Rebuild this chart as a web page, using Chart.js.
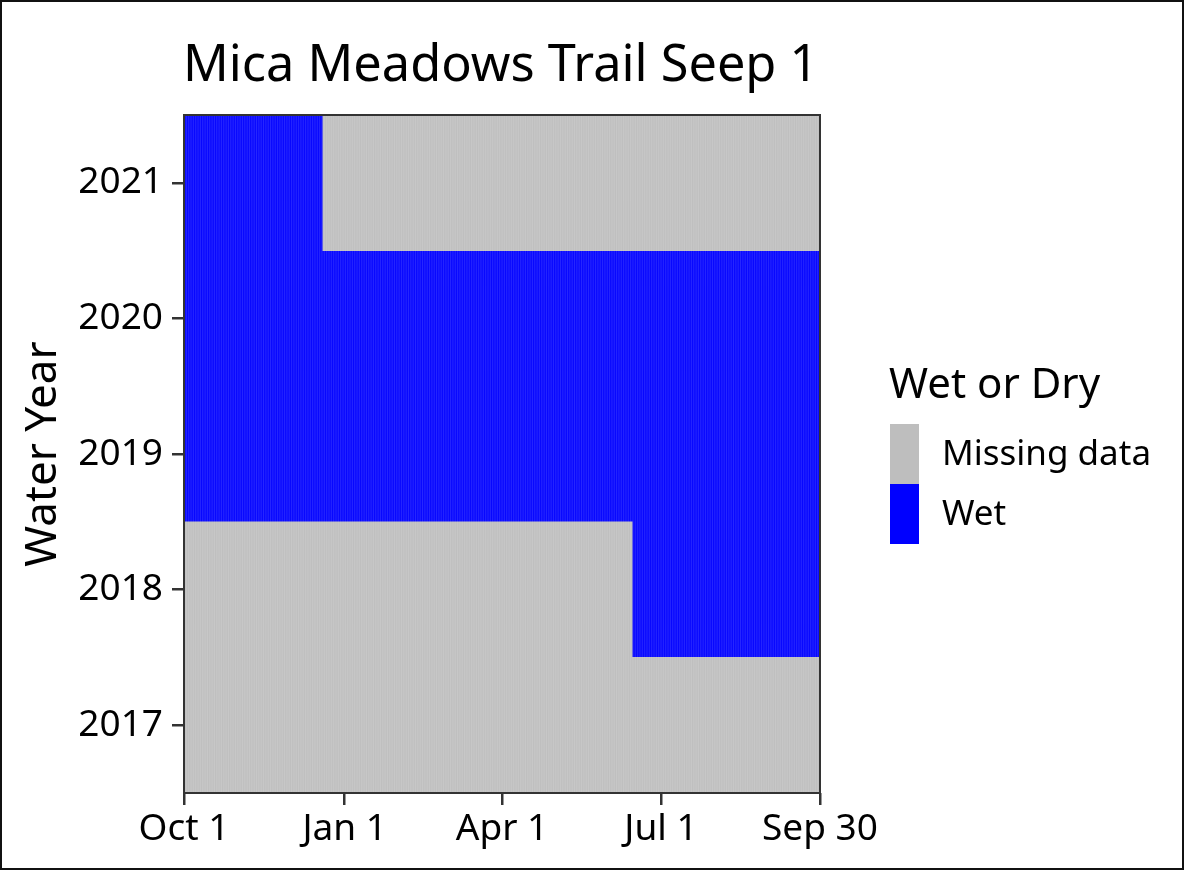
<!DOCTYPE html>
<html>
<head>
<meta charset="utf-8">
<script src="https://cdn.jsdelivr.net/npm/chart.js@4.4.1/dist/chart.umd.min.js"></script>
<style>
  html, body { margin: 0; padding: 0; background: #fff; }
  #wrap { position: relative; width: 1184px; height: 871px; }
  #frame { position: absolute; left: 0; top: 0; width: 1184px; height: 870px; box-sizing: border-box; border: 2px solid #111; pointer-events: none; }
  canvas { display: block; }
</style>
</head>
<body>
<div id="wrap">
  <canvas id="c" width="1184" height="871"></canvas>
  <div id="frame"></div>
</div>
<script>
// ---- data ----
const chartTitle = 'Mica Meadows Trail Seep 1';
const yAxisTitle = 'Water Year';
const legendTitle = 'Wet or Dry';
const years = ['2021', '2020', '2019', '2018', '2017'];
// day of water year (1 = Oct 1, 365 = Sep 30); [firstDay, lastDay] or null
const missingRuns = [[81, 365], null, null, [1, 257], [1, 365]];
const wetRuns     = [[1, 80], [1, 365], [1, 365], [258, 365], null];
const tickDays   = [1, 93, 183, 274, 365];
const tickLabels = ['Oct 1', 'Jan 1', 'Apr 1', 'Jul 1', 'Sep 30'];
const seriesNames  = ['Missing data', 'Wet'];
const seriesColors = ['#BEBEBE', '#0000FF'];

const FONT = "'Noto Sans', 'Open Sans', sans-serif";
const toBar = r => r ? [r[0] - 0.5, r[1] + 0.5] : null;

const panelPlugin = {
  id: 'panel',
  afterDatasetsDraw(chart) {
    const { ctx, chartArea: a, scales } = chart;
    ctx.save();
    ctx.beginPath();
    ctx.rect(a.left, a.top, a.right - a.left, a.bottom - a.top);
    ctx.clip();
    // faint day-tile seams
    ctx.strokeStyle = 'rgba(255,255,255,0.15)';
    ctx.lineWidth = 1;
    for (let d = 1; d <= 365; d++) {
      const x = scales.x.getPixelForValue(d + 0.5);
      ctx.beginPath();
      ctx.moveTo(x, a.top);
      ctx.lineTo(x, a.bottom);
      ctx.stroke();
    }
    ctx.restore();
    // panel border
    ctx.save();
    ctx.strokeStyle = '#333333';
    ctx.lineWidth = 2;
    ctx.strokeRect(a.left, a.top, a.right - a.left, a.bottom - a.top);
    ctx.restore();
  },
  afterDraw(chart) {
    const { ctx, chartArea: a } = chart;
    ctx.save();
    ctx.fillStyle = '#000';
    ctx.textBaseline = 'alphabetic';
    ctx.textAlign = 'left';
    ctx.font = '50.5px ' + FONT;
    ctx.fillText(chartTitle, a.left - 1, 81);
    // legend
    const lx = 890, kw = 29, kh = 60;
    let ky = 424;
    ctx.font = '42px ' + FONT;
    ctx.fillText(legendTitle, lx - 1, 398);
    ctx.font = '35px ' + FONT;
    ctx.textBaseline = 'middle';
    chart.data.datasets.forEach(ds => {
      ctx.fillStyle = ds.backgroundColor;
      ctx.fillRect(lx, ky, kw, kh);
      ctx.fillStyle = '#000';
      ctx.fillText(ds.label, lx + 52, ky + kh / 2 + 1);
      ky += kh;
    });
    ctx.restore();
  }
};

new Chart(document.getElementById('c'), {
  type: 'bar',
  data: {
    labels: years,
    datasets: [
      { label: seriesNames[0], data: missingRuns.map(toBar), backgroundColor: seriesColors[0], grouped: false, barPercentage: 1, categoryPercentage: 1, borderWidth: 0 },
      { label: seriesNames[1], data: wetRuns.map(toBar), backgroundColor: seriesColors[1], grouped: false, barPercentage: 1, categoryPercentage: 1, borderWidth: 0 }
    ]
  },
  options: {
    indexAxis: 'y',
    responsive: false,
    animation: false,
    devicePixelRatio: 1,
    layout: { padding: { top: 115, right: 364, left: 0, bottom: 0 } },
    plugins: { legend: { display: false }, title: { display: false }, tooltip: { enabled: false } },
    scales: {
      x: {
        type: 'linear', min: 1, max: 365,
        afterBuildTicks(s) { s.ticks = tickDays.map(v => ({ value: v })); },
        afterFit(s) { s.height = 78; },
        ticks: {
          autoSkip: false, maxRotation: 0, color: '#000', padding: 2,
          font: { size: 37, family: FONT },
          callback(v) { const i = tickDays.indexOf(v); return i >= 0 ? tickLabels[i] : ''; }
        },
        grid: { drawOnChartArea: false, drawTicks: true, tickLength: 12, color: '#333333', lineWidth: 2.5 },
        border: { display: false }
      },
      y: {
        type: 'category',
        afterFit(s) { s.width = 184; },
        ticks: { color: '#000', padding: 9, font: { size: 37, family: FONT } },
        grid: { drawOnChartArea: false, drawTicks: true, tickLength: 12, color: '#333333', lineWidth: 2.5, offset: false },
        border: { display: false },
        title: { display: true, text: yAxisTitle, color: '#000', font: { size: 44, family: FONT }, padding: { top: 17, bottom: 0 } }
      }
    }
  },
  plugins: [panelPlugin]
});
</script>
</body>
</html>
